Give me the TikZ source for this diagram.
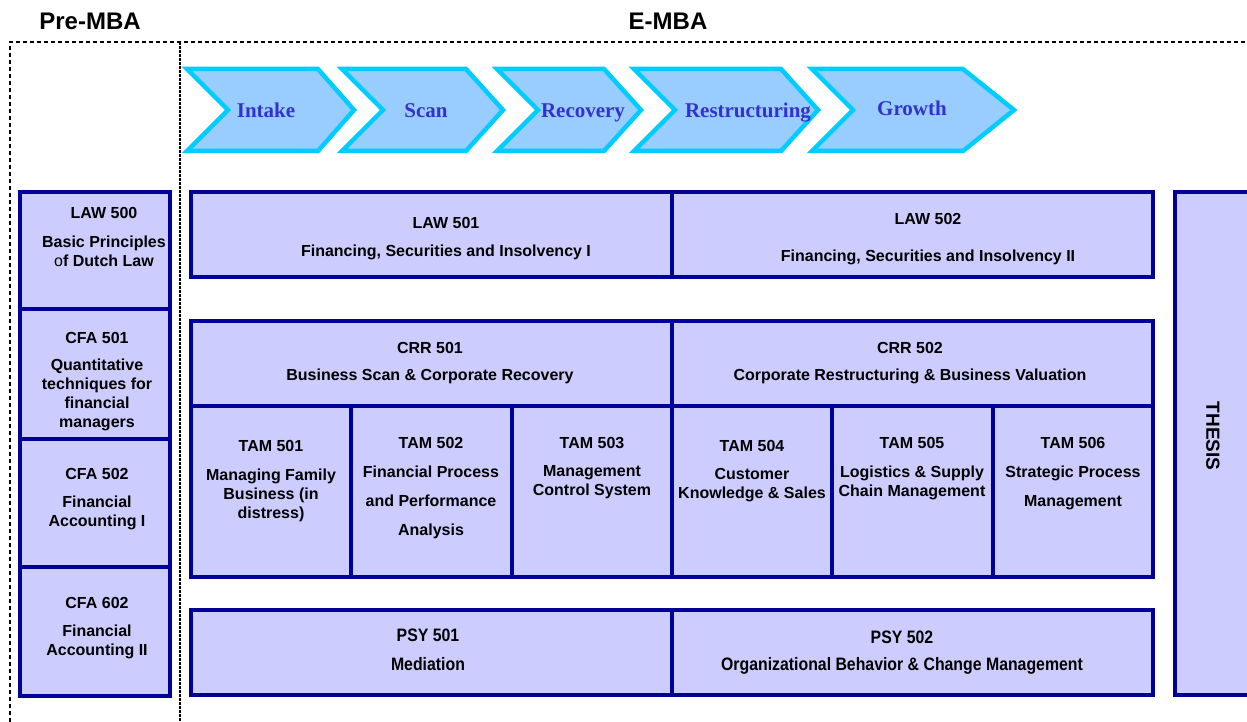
\documentclass[tikz,border=0pt]{standalone}
\usepackage{fontspec}
\setmainfont{Liberation Sans}
\newfontfamily\tnr{Liberation Serif}
\definecolor{lav}{HTML}{CCCCFF}
\definecolor{navy}{HTML}{000099}
\definecolor{chevfill}{HTML}{99CCFF}
\definecolor{chevline}{HTML}{00CCFF}
\definecolor{chevtext}{HTML}{3333CC}
\tikzset{
  box/.style={draw=navy, fill=lav, line width=3.2pt},
  chev/.style={draw=chevline, fill=chevfill, line width=4.5pt, line join=miter},
  chevlbl/.style={font=\tnr\bfseries\fontsize{21}{24}\selectfont, text=chevtext, inner sep=0pt, anchor=base},
  lbl/.style={font=\bfseries\fontsize{16}{19}\selectfont, align=center, inner sep=0pt},
  widelbl/.style={font=\bfseries\fontsize{16}{29}\selectfont, align=center, inner sep=0pt},
  psylbl/.style={font=\bfseries\fontsize{18}{22}\selectfont, inner sep=0pt},
  head/.style={font=\bfseries\fontsize{24}{28}\selectfont, inner sep=0pt},
  guide/.style={line width=1.3pt, dash pattern=on 4pt off 3pt},
  fineguide/.style={line width=1.1pt, dash pattern=on 3pt off 1pt}
}
\begin{document}
\begin{tikzpicture}[x=1pt,y=-1pt]
\useasboundingbox (0,0) rectangle (1247,722);
% headings
\node[head] (pre) at (90,21) {Pre-MBA};
\node[head] (emba) at (668,21) {E-MBA};
% guides
\coordinate (gtl) at (10,42);
\coordinate (gtr) at (1247,42);
\coordinate (gbl) at (10,722);
\coordinate (gmt) at (180,42);
\coordinate (gmb) at (180,722);
\draw[guide] (gbl) -- (gtl) -- (gtr);
\draw[fineguide] (gmt) -- (gmb);
% chevrons
\draw[chev] (187,69) -- (318,69) -- (354,110) -- (318,151) -- (187,151) -- (228,110) -- cycle;
\draw[chev] (342,69) -- (466,69) -- (503,110) -- (466,151) -- (342,151) -- (383,110) -- cycle;
\draw[chev] (497,69) -- (604,69) -- (641,110) -- (604,151) -- (497,151) -- (538,110) -- cycle;
\draw[chev] (634,69) -- (781,69) -- (818,110) -- (781,151) -- (634,151) -- (675,110) -- cycle;
\draw[chev] (812,69) -- (963,69) -- (1014,110) -- (963,151) -- (812,151) -- (853,110) -- cycle;
\node[chevlbl] (intake) at (266,118) {Intake};
\node[chevlbl] (scan) at (426,118) {Scan};
\node[chevlbl] (recovery) at (583,118) {Recovery};
\node[chevlbl] (restr) at (748,118) {Restructuring};
\node[chevlbl] (growth) at (912,116) {Growth};
% left column
\draw[box] (20,192) rectangle (170,309);
\draw[box] (20,309) rectangle (170,439);
\draw[box] (20,439) rectangle (170,567);
\draw[box] (20,567) rectangle (170,696);
\node[lbl] (law500) at (104,213) {LAW 500};
\node[lbl] (law500b) at (104,251.5) {Basic Principles\\{\mdseries o}f Dutch Law};
\node[lbl] (cfa501) at (97,338) {CFA 501};
\node[lbl] (cfa501b) at (97,394.5) {Quantitative\\techniques for\\financial\\managers};
\node[lbl] (cfa502) at (97,474) {CFA 502};
\node[lbl] (cfa502b) at (97,512.5) {Financial\\Accounting I};
\node[lbl] (cfa602) at (97,603) {CFA 602};
\node[lbl] (cfa602b) at (97,641.5) {Financial\\Accounting II};
% LAW row
\draw[box] (191,192) rectangle (672,277);
\draw[box] (672,192) rectangle (1153,277);
\node[lbl] (law501) at (446,223) {LAW 501};
\node[lbl] (law501b) at (446,252) {Financing, Securities and Insolvency I};
\node[lbl] (law502) at (928,219) {LAW 502};
\node[lbl] (law502b) at (928,257) {Financing, Securities and Insolvency II};
% CRR row
\draw[box] (191,321) rectangle (672,406);
\draw[box] (672,321) rectangle (1153,406);
\node[lbl] (crr501) at (430,348) {CRR 501};
\node[lbl] (crr501b) at (430,376) {Business Scan \& Corporate Recovery};
\node[lbl] (crr502) at (910,348) {CRR 502};
\node[lbl] (crr502b) at (910,376) {Corporate Restructuring \& Business Valuation};
% TAM row
\draw[box] (191,406) rectangle (351,577);
\draw[box] (351,406) rectangle (512,577);
\draw[box] (512,406) rectangle (672,577);
\draw[box] (672,406) rectangle (832,577);
\draw[box] (832,406) rectangle (993,577);
\draw[box] (993,406) rectangle (1153,577);
\node[lbl] (tam501) at (271,446) {TAM 501};
\node[lbl] (tam501b) at (271,495) {Managing Family\\Business (in\\distress)};
\node[lbl] (tam502) at (431,443) {TAM 502};
\node[widelbl] (tam502b) at (431,502) {Financial Process\\and Performance\\Analysis};
\node[lbl] (tam503) at (592,443) {TAM 503};
\node[lbl] (tam503b) at (592,482.5) {Management\\Control System};
\node[lbl] (tam504) at (752,446) {TAM 504};
\node[lbl] (tam504b) at (752,485) {Customer\\Knowledge \& Sales};
\node[lbl] (tam505) at (912,443) {TAM 505};
\node[lbl] (tam505b) at (912,482.5) {Logistics \& Supply\\Chain Management};
\node[lbl] (tam506) at (1073,443) {TAM 506};
\node[widelbl] (tam506b) at (1073,487.5) {Strategic Process\\Management};
% PSY row
\draw[box] (191,610) rectangle (672,695);
\draw[box] (672,610) rectangle (1153,695);
\node[psylbl] (psy501) at (428,635) {\scalebox{0.88}[1]{PSY 501}};
\node[psylbl] (psy501b) at (428,664) {\scalebox{0.88}[1]{Mediation}};
\node[psylbl] (psy502) at (902,637) {\scalebox{0.88}[1]{PSY 502}};
\node[psylbl] (psy502b) at (902,666) {\scalebox{0.88}[1]{Organizational Behavior \& Change Management}};
% thesis
\draw[box] (1175,192) rectangle (1262,695);
\node[font=\bfseries\fontsize{19}{22}\selectfont, rotate=-90, inner sep=0pt] (thesis) at (1213,436) {THESIS};
\end{tikzpicture}
\end{document}
